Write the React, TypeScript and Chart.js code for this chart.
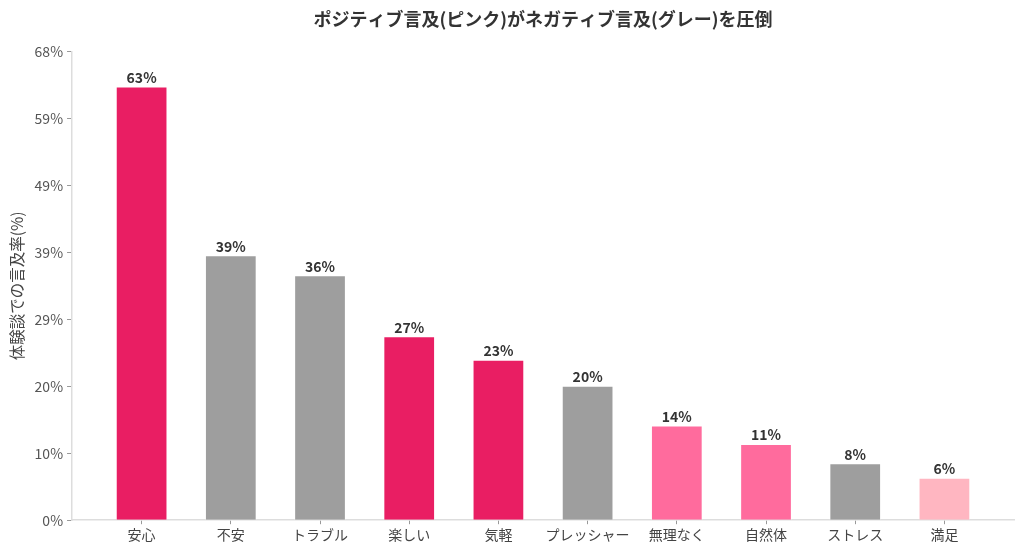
import React, { useEffect, useRef } from 'react';
import { Chart, registerables } from 'chart.js';

Chart.register(...registerables);

const categories = ['安心', '不安', 'トラブル', '楽しい', '気軽', 'プレッシャー', '無理なく', '自然体', 'ストレス', '満足'];
const rates = [63.2, 38.6, 35.7, 26.8, 23.4, 19.6, 13.8, 11.1, 8.3, 6.2];
const barColors = ['#E91E63', '#9E9E9E', '#9E9E9E', '#E91E63', '#E91E63', '#9E9E9E', '#FF6B9D', '#FF6B9D', '#9E9E9E', '#FFB6C1'];
const yMax = 68.3;

const FONT = '"Noto Sans CJK JP", "Noto Sans", sans-serif';

const barLabels = {
  id: 'barLabels',
  afterDatasetsDraw(chart: any) {
    const ctx = chart.ctx;
    const meta = chart.getDatasetMeta(0);
    ctx.save();
    ctx.font = `bold 14px ${FONT}`;
    ctx.fillStyle = '#333333';
    ctx.textAlign = 'center';
    ctx.textBaseline = 'bottom';
    meta.data.forEach((bar: any, i: number) => {
      ctx.fillText(`${Math.round(rates[i])}%`, bar.x, bar.y - 2);
    });
    ctx.restore();
  },
};

function App() {
  const chartRef = useRef<HTMLCanvasElement | null>(null);
  const chartInstance = useRef<Chart | null>(null);

  useEffect(() => {
    document.body.style.margin = '0';
    if (chartInstance.current) {
      chartInstance.current.destroy();
    }
    const ctx = chartRef.current?.getContext('2d');
    if (ctx) {
      chartInstance.current = new Chart(ctx, {
        type: 'bar',
        data: {
          datasets: [
            {
              data: rates.map((v, i) => ({ x: i, y: v })),
              backgroundColor: barColors,
              borderColor: 'rgba(255,255,255,0.45)',
              borderWidth: 1,
              categoryPercentage: 1,
              barPercentage: 0.58,
            },
          ],
        },
        options: {
          animation: false,
          responsive: true,
          maintainAspectRatio: false,
          layout: { padding: { left: 8, right: 10, top: 0, bottom: 8 } },
          plugins: {
            legend: { display: false },
            tooltip: { enabled: false },
            title: {
              display: true,
              text: 'ポジティブ言及(ピンク)がネガティブ言及(グレー)を圧倒',
              color: '#333333',
              font: { family: FONT, size: 18, weight: 'bold' },
              padding: { top: 8, bottom: 22 },
              fullSize: false,
            },
          },
          scales: {
            x: {
              type: 'linear',
              offset: false,
              min: -0.78,
              max: 9.78,
              afterBuildTicks: (scale: any) => {
                scale.ticks = categories.map((_, i) => ({ value: i }));
              },
              ticks: {
                autoSkip: false,
                maxRotation: 0,
                color: '#444444',
                font: { family: FONT, size: 14 },
                padding: 2,
                callback: (v: any) => categories[v as number] ?? '',
              },
              grid: { offset: false, drawOnChartArea: false, drawTicks: true, tickLength: 4, color: '#999999' },
              border: { color: '#dddddd', width: 1.5 },
            },
            y: {
              min: 0,
              max: yMax,
              ticks: {
                count: 8,
                color: '#555555',
                font: { family: FONT, size: 14 },
                padding: 4,
                callback: (v: any) => `${Math.round(Number(v))}%`,
              },
              grid: { drawOnChartArea: false, drawTicks: true, tickLength: 5, color: '#999999' },
              border: { color: '#dddddd', width: 1.5 },
              title: {
                display: true,
                text: '体験談での言及率(%)',
                color: '#444444',
                font: { family: FONT, size: 15.5 },
                padding: { top: 0, bottom: 4 },
              },
            },
          },
        },
        plugins: [barLabels],
      });
    }
    return () => {
      if (chartInstance.current) {
        chartInstance.current.destroy();
        chartInstance.current = null;
      }
    };
  }, []);

  return (
    <div style={{ width: '1024px', height: '553px', background: '#ffffff' }}>
      <canvas ref={chartRef} />
    </div>
  );
}

export default App;
